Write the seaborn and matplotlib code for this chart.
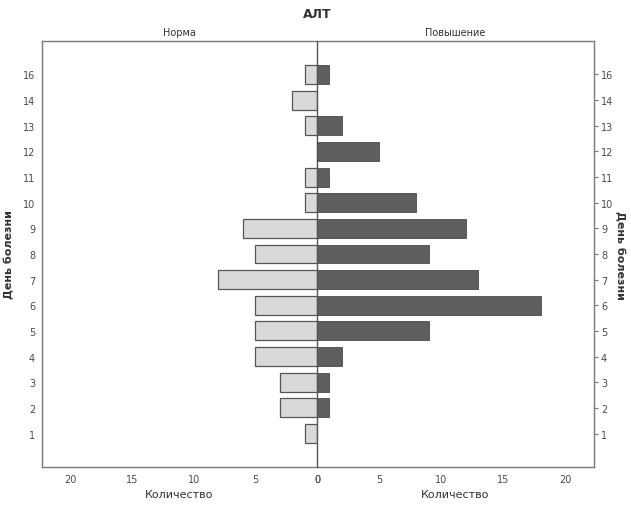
import matplotlib
matplotlib.use("Agg")
import matplotlib.pyplot as plt
import seaborn as sns
import pandas as pd

# Days of illness (categorical, top to bottom)
days = ["16", "14", "13", "12", "11", "10", "9", "8", "7", "6", "5", "4", "3", "2", "1"]
# Counts per day for each group
norma = [1, 2, 1, 0, 1, 1, 6, 5, 8, 5, 5, 5, 3, 3, 1]
povyshenie = [1, 0, 2, 5, 1, 8, 12, 9, 13, 18, 9, 2, 1, 1, 0]
x_ticks = [0, 5, 10, 15, 20]

sns.set_theme(style="white")
plt.rcParams["font.family"] = ["DejaVu Sans"]

df = pd.DataFrame({"day": days, "norma": norma, "povyshenie": povyshenie})

W, H = 631, 506
fig = plt.figure(figsize=(W / 100, H / 100), dpi=100)
left, right, top, bottom = 42, 594, 42, 468
mid = 317
axL = fig.add_axes([left / W, (H - bottom) / H, (mid - left) / W, (bottom - top) / H])
axR = fig.add_axes([mid / W, (H - bottom) / H, (right - mid) / W, (bottom - top) / H])
axR.patch.set_alpha(0)

txt = "#4a4a4a"
spine_c = "#7a7a7a"

sns.barplot(data=df, x="norma", y="day", order=days, orient="h", ax=axL,
            color="#d9d9d9", edgecolor="#555555", linewidth=0.9, width=0.74, saturation=1)
sns.barplot(data=df, x="povyshenie", y="day", order=days, orient="h", ax=axR,
            color="#5e5e5e", edgecolor="#4a4a4a", linewidth=0.6, width=0.74, saturation=1)

xmax = 22.3
axL.set_xlim(xmax, 0)
axR.set_xlim(0, xmax)
for ax in (axL, axR):
    ax.set_ylim(len(days) - 1 + 1.3, -1.3)
    ax.set_xticks(x_ticks)
    ax.set_xticklabels([str(t) for t in x_ticks])
    ax.tick_params(axis="both", which="both", direction="out", length=3, width=0.8,
                   colors=spine_c, labelcolor=txt, labelsize=7, pad=2)
    for s in ax.spines.values():
        s.set_color(spine_c)
        s.set_linewidth(1.0)
    ax.set_xlabel("Количество", fontsize=8, color="#333333", labelpad=4)
    ax.grid(False)

# Shared zero line between the two halves
axL.spines["right"].set_visible(False)
axR.spines["left"].set_visible(False)
axR.axvline(0, color="#555555", linewidth=1.0, zorder=5, clip_on=False)

axL.set_ylabel("День болезни", fontsize=8, fontweight="bold", color="#333333", labelpad=6)
axR.yaxis.tick_right()
axR.yaxis.set_label_position("right")
axR.set_ylabel("День болезни", fontsize=8, fontweight="bold", color="#333333",
               rotation=270, labelpad=8)
axR.tick_params(axis="y", left=False, right=True, labelleft=False, labelright=True)

axL.set_title("Норма", fontsize=7, color="#333333", pad=4)
axR.set_title("Повышение", fontsize=7, color="#333333", pad=4)
fig.text(mid / W, 1 - 14 / H, "АЛТ", ha="center", va="center",
         fontsize=9, fontweight="bold", color="#333333")

fig.savefig("out.png", dpi=100, facecolor="white")
